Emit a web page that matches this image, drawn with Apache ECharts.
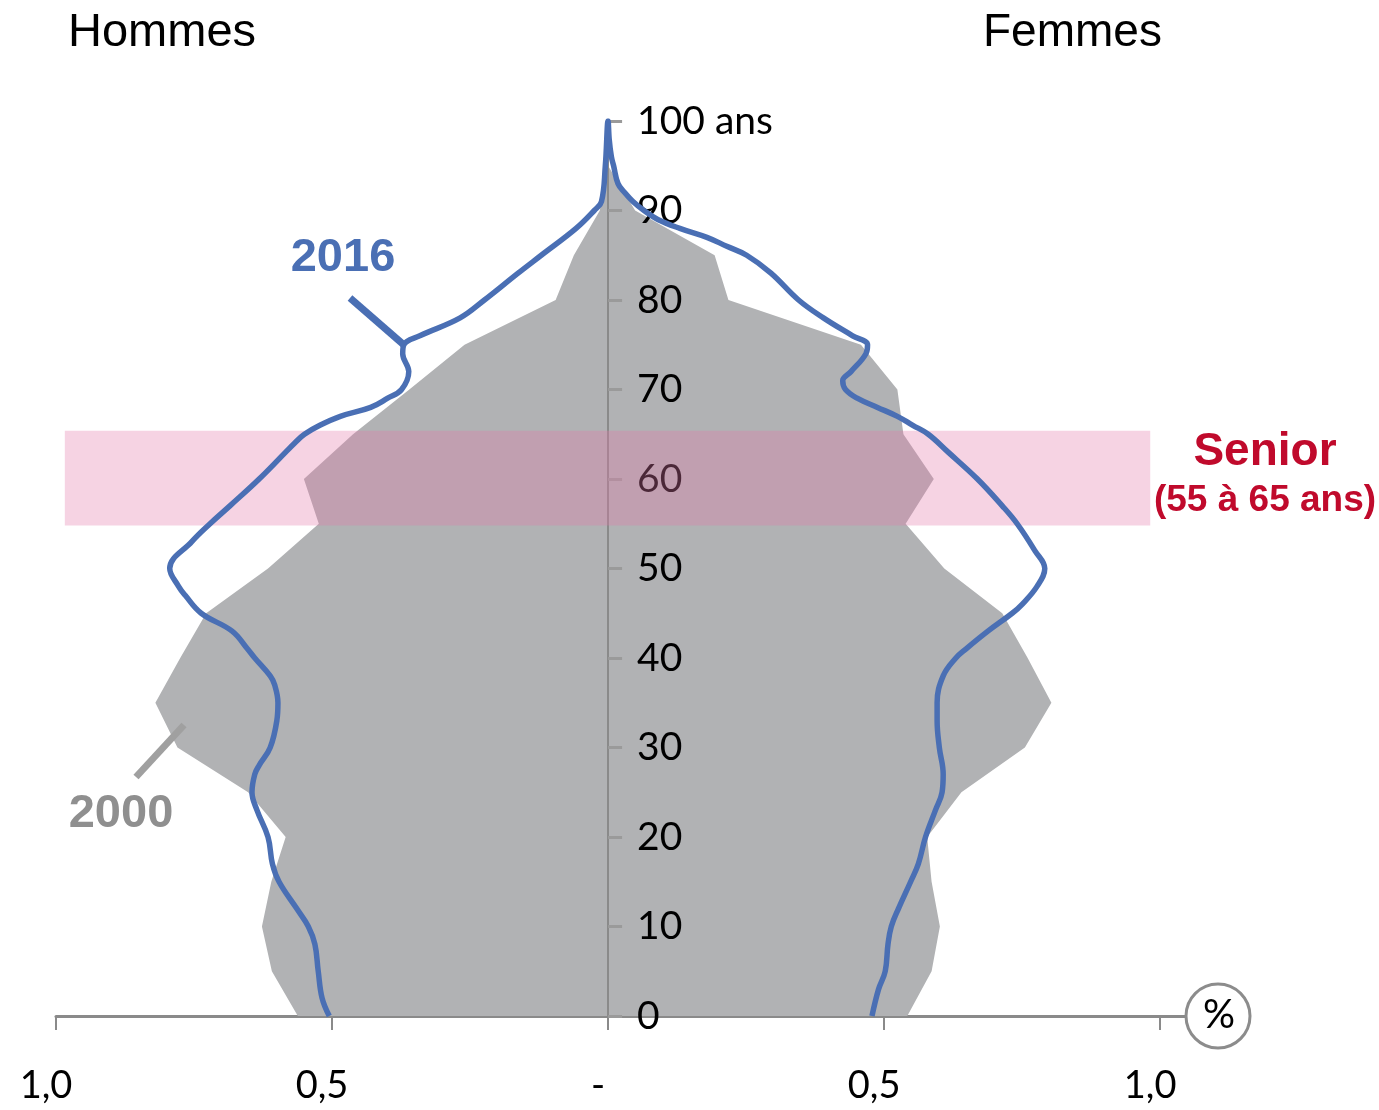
<!DOCTYPE html>
<html>
<head>
<meta charset="utf-8">
<script src="https://cdn.jsdelivr.net/npm/echarts@6/dist/echarts.min.js"></script>
<style>
  html, body { margin: 0; padding: 0; background: #fff; }
  #chart { width: 1379px; height: 1110px; }
</style>
</head>
<body>
<div id="chart"></div>
<script>
// --- données (part de la population, en %) ---
// 2000 : pyramide grise, par tranches de 5 ans
const ages2000 = [0, 5, 10, 15, 20, 25, 30, 35, 40, 45, 50, 55, 60, 65, 70, 75, 80, 85, 90, 95, 100]
const hommes2000 = [-0.562, -0.609, -0.627, -0.61, -0.584, -0.652, -0.78, -0.82, -0.775, -0.728, -0.616,
  -0.524, -0.551, -0.462, -0.36, -0.26, -0.095, -0.062, -0.015, 0, 0]
const femmes2000 = [0.542, 0.586, 0.601, 0.586, 0.578, 0.64, 0.755, 0.803, 0.76, 0.714, 0.609,
  0.539, 0.59, 0.535, 0.524, 0.458, 0.218, 0.193, 0.049, 0, 0]

// 2016 : courbe bleue
const agesH2016 = [0, 2, 5, 8, 10, 12, 15, 17, 20, 23, 25, 27, 28, 30, 33, 35, 37, 38, 40, 41, 43, 45, 47, 48,
  50, 53, 55, 57, 60, 63, 64, 65, 66, 67, 68, 69, 70, 72, 74, 75, 76, 78, 80, 83, 85, 88, 90, 91, 95, 100]
const hommes2016 = [-0.505, -0.518, -0.525, -0.531, -0.543, -0.564, -0.596, -0.608, -0.616, -0.636, -0.645,
  -0.64, -0.632, -0.612, -0.6, -0.598, -0.604, -0.612, -0.64, -0.653, -0.681, -0.737, -0.766, -0.778,
  -0.794, -0.754, -0.721, -0.685, -0.632, -0.584, -0.568, -0.55, -0.522, -0.485, -0.43, -0.4, -0.374,
  -0.361, -0.372, -0.37, -0.341, -0.268, -0.224, -0.163, -0.121, -0.058, -0.025, -0.012, -0.005, 0]
const agesF2016 = [100, 98, 96, 95, 93, 92, 91, 90, 89, 88, 87, 86, 85, 83, 80, 78, 76, 75, 74, 72, 71, 70, 69,
  68, 67, 66, 65, 63, 60, 57, 55, 52, 50, 48, 46, 45, 43, 41, 40, 38, 35, 33, 30, 27, 25, 23, 20, 17, 15,
  12, 10, 8, 5, 3, 0]
const femmes2016 = [0, 0.002, 0.006, 0.01, 0.018, 0.03, 0.045, 0.065, 0.09, 0.13, 0.179, 0.215, 0.251, 0.295,
  0.345, 0.39, 0.443, 0.47, 0.467, 0.44, 0.425, 0.43, 0.452, 0.488, 0.524, 0.552, 0.58, 0.616, 0.669,
  0.714, 0.741, 0.773, 0.791, 0.777, 0.75, 0.732, 0.688, 0.648, 0.63, 0.607, 0.596, 0.596, 0.6, 0.607,
  0.605, 0.593, 0.575, 0.562, 0.548, 0.526, 0.513, 0.507, 0.502, 0.49, 0.478]

// tranche « Senior »
const trancheSenior = [55, 65]

// graduations
const xTicks = [-1, -0.5, 0, 0.5, 1]
const xTickLabels = ['1,0', '0,5', '-', '0,5', '1,0']
const yTickLabels = ['0', '10', '20', '30', '40', '50', '60', '70', '80', '90', '100 ans']

// --- couleurs ---
const BLEU = '#4a6fb4'
const GRIS = '#b1b2b4'
const ROUGE = '#c00a2c'

// polygone 2000 : hommes de bas en haut, puis femmes de haut en bas
const pyramide2000 = ages2000.map((a, i) => [hommes2000[i], a])
  .concat(ages2000.map((a, i) => [femmes2000[i], a]).reverse())
// courbe 2016 : même parcours
const courbe2016 = agesH2016.map((a, i) => [hommes2016[i], a])
  .concat(agesF2016.map((a, i) => [femmes2016[i], a]))

const X_MIN = -1
const X_MAX = 1.045
const GRID = { left: 56, right: 194, top: 121, bottom: 94 }
// décalage de l'axe vertical pour le placer sur x = 0
const largeur = 1379 - GRID.left - GRID.right
const decalageY = -largeur * (0 - X_MIN) / (X_MAX - X_MIN)

const chart = echarts.init(document.getElementById('chart'))

const option = {
  animation: false,
  grid: Object.assign({ outerBoundsMode: 'none' }, GRID),
  xAxis: {
    type: 'value',
    min: X_MIN,
    max: X_MAX,
    interval: 0.5,
    splitLine: { show: false },
    axisLine: { lineStyle: { color: '#8a8a8a', width: 3 } },
    axisTick: { customValues: xTicks, length: 14, lineStyle: { color: '#8a8a8a', width: 2 } },
    axisLabel: {
      customValues: xTicks,
      formatter: v => xTickLabels[xTicks.indexOf(Math.round(v * 10) / 10)] || '',
      margin: 51,
      padding: [0, 20, 0, 0],
      color: '#000',
      fontFamily: 'Lato',
      fontSize: 38
    }
  },
  yAxis: {
    type: 'value',
    position: 'left',
    offset: decalageY,
    min: 0,
    max: 100,
    interval: 10,
    z: 3,
    splitLine: { show: false },
    axisLine: { onZero: false, lineStyle: { color: '#8a8a8a', width: 2 } },
    axisTick: { inside: true, length: 14, lineStyle: { color: '#9a9a9a', width: 3 } },
    axisLabel: {
      inside: true,
      margin: 29,
      padding: [4, 0, 0, 0],
      formatter: v => yTickLabels[Math.round(v / 10)],
      color: '#000',
      fontFamily: 'Lato',
      fontSize: 39
    }
  },
  series: [
    {
      // pyramide 2000 (aire grise)
      type: 'custom',
      z: 1,
      silent: true,
      data: [[0, 0]],
      renderItem: (params, api) => ({
        type: 'polygon',
        shape: { points: pyramide2000.map(p => api.coord(p)) },
        style: { fill: GRIS }
      })
    },
    {
      // bande « Senior »
      type: 'custom',
      z: 4,
      silent: true,
      data: [trancheSenior],
      renderItem: (params, api) => {
        const p0 = api.coord([-0.984, api.value(1) + 0.4])
        const p1 = api.coord([0.982, api.value(0) - 0.2])
        return {
          type: 'rect',
          shape: { x: p0[0], y: p0[1], width: p1[0] - p0[0], height: p1[1] - p0[1] },
          style: { fill: 'rgba(227, 120, 169, 0.33)' }
        }
      }
    },
    {
      name: '2016',
      type: 'line',
      z: 5,
      data: courbe2016,
      smooth: 0.4,
      symbol: 'none',
      lineStyle: { color: BLEU, width: 5.5 }
    }
  ],
  graphic: [
    { type: 'text', z: 20, left: 68, top: 10, style: { text: 'Hommes', font: '47px "Liberation Sans", Arial', fill: '#000' } },
    { type: 'text', z: 20, left: 983, top: 10, style: { text: 'Femmes', font: '46px "Liberation Sans", Arial', fill: '#000' } },

    // étiquette 2016
    { type: 'text', z: 20, x: 343, y: 258, style: { text: '2016', font: 'bold 47px "Liberation Sans", Arial', fill: BLEU, align: 'center', verticalAlign: 'middle' } },
    { type: 'line', z: 20, shape: { x1: 350, y1: 298, x2: 404, y2: 345 }, style: { stroke: BLEU, lineWidth: 7 } },

    // étiquette 2000
    { type: 'text', z: 20, x: 121, y: 814, style: { text: '2000', font: 'bold 47px "Liberation Sans", Arial', fill: '#8f8f8f', align: 'center', verticalAlign: 'middle' } },
    { type: 'line', z: 20, shape: { x1: 136, y1: 777, x2: 184, y2: 725 }, style: { stroke: '#a0a0a0', lineWidth: 7 } },

    // Senior
    { type: 'text', z: 20, x: 1265, y: 452, style: { text: 'Senior', font: 'bold 46px "Liberation Sans", Arial', fill: ROUGE, align: 'center', verticalAlign: 'middle' } },
    { type: 'text', z: 20, x: 1265, y: 501, style: { text: '(55 à 65 ans)', font: 'bold 37px "Liberation Sans", Arial', fill: ROUGE, align: 'center', verticalAlign: 'middle' } },

    // unité
    { type: 'circle', z: 20, shape: { cx: 1218, cy: 1016, r: 32 }, style: { fill: '#fff', stroke: '#8c8c8c', lineWidth: 3 } },
    { type: 'text', z: 21, x: 1219, y: 1015, style: { text: '%', font: '40px Lato', fill: '#000', align: 'center', verticalAlign: 'middle' } }
  ]
}

chart.setOption(option)
window.addEventListener('resize', () => chart.resize())
</script>
</body>
</html>
